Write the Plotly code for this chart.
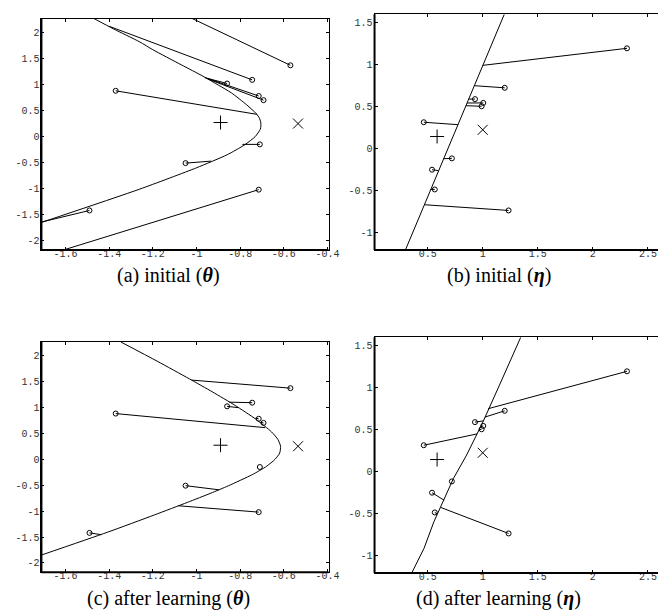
import plotly.graph_objects as go

# ---------------- data ----------------
# theta-space observations (panels a, c)
theta2_pts = [-0.57, -0.745, -0.86, -0.715, -0.693, -1.37, -0.71, -1.05, -0.715, -1.49]
theta1_pts = [1.37, 1.09, 1.02, 0.78, 0.70, 0.88, -0.15, -0.51, -1.02, -1.42]

# eta-space observations (panels b, d)
eta2_pts = [2.31, 1.20, 0.93, 1.005, 0.99, 0.465, 0.72, 0.54, 0.565, 1.235]
eta1_pts = [1.195, 0.725, 0.59, 0.545, 0.505, 0.315, -0.115, -0.25, -0.485, -0.735]

# reference markers (+ and x)
plus_theta = [-0.89, 0.27]
cross_theta = [-0.535, 0.25]
plus_eta = [0.586, 0.145]
cross_eta = [1.0, 0.225]

# (a) initial model curve in theta space
curve_a_t2 = [-1.47, -1.38, -1.26, -1.20, -1.07, -0.97, -0.90, -0.84, -0.77, -0.725, -0.712, -0.706,
              -0.705, -0.708, -0.731, -0.78, -0.86, -1.0, -1.26, -1.71]
curve_a_t1 = [2.27, 2.07, 1.82, 1.67, 1.38, 1.16, 0.99, 0.84, 0.61, 0.435, 0.355, 0.28,
              0.21, 0.14, 0.0, -0.16, -0.35, -0.60, -1.01, -1.65]
# (a) projection feet
foot_a_t2 = [-1.02, -1.40, -0.963, -0.955, -0.95, -0.723, -0.79, -0.933, -1.617, -1.714]
foot_a_t1 = [2.27, 2.12, 1.133, 1.125, 1.11, 0.427, -0.15, -0.472, -2.19, -1.647]

# (b) initial model line in eta space
curve_b_e2 = [0.297, 1.196]
curve_b_e1 = [-1.21, 1.60]
foot_b_e2 = [1.0, 0.924, 0.873, 0.858, 0.848, 0.776, 0.645, 0.599, 0.528, 0.470]
foot_b_e1 = [0.992, 0.75, 0.591, 0.544, 0.512, 0.286, -0.119, -0.262, -0.485, -0.667]

# (c) learned model curve in theta space
curve_c_t2 = [-1.346, -1.18, -1.032, -0.927, -0.823, -0.728, -0.656, -0.627, -0.615, -0.619, -0.64,
              -0.679, -0.745, -0.854, -0.934, -1.042, -1.192, -1.408, -1.714]
curve_c_t1 = [2.26, 1.89, 1.548, 1.298, 1.037, 0.771, 0.525, 0.38, 0.25, 0.12, 0.0,
              -0.136, -0.298, -0.512, -0.654, -0.833, -1.073, -1.408, -1.853]
foot_c_t2 = [-1.023, -0.85, -0.809, -0.73, -0.71, -0.686, -0.71, -0.896, -1.083, -1.436]
foot_c_t1 = [1.526, 1.10, 0.994, 0.79, 0.71, 0.609, -0.15, -0.59, -0.897, -1.455]

# (d) learned model curve in eta space
curve_d_e2 = [0.354, 0.467, 0.557, 0.646, 0.735, 0.854, 1.003, 1.152, 1.345]
curve_d_e1 = [-1.21, -0.913, -0.595, -0.337, -0.079, 0.198, 0.595, 1.03, 1.60]
foot_d_e2 = [1.05, 1.02, 1.006, 0.983, 0.967, 0.949, 0.72, 0.65, 0.585, 0.618]
foot_d_e1 = [0.75, 0.65, 0.605, 0.541, 0.5, 0.45, -0.115, -0.34, -0.5, -0.425]

theta_x_ticks = [-1.6, -1.4, -1.2, -1.0, -0.8, -0.6, -0.4]
theta_x_text = ["-1.6", "-1.4", "-1.2", "-1", "-0.8", "-0.6", "-0.4"]
theta_y_ticks = [-2, -1.5, -1, -0.5, 0, 0.5, 1, 1.5, 2]
theta_y_text = ["-2", "-1.5", "-1", "-0.5", "0", "0.5", "1", "1.5", "2"]
eta_x_ticks = [0.5, 1, 1.5, 2, 2.5]
eta_x_text = ["0.5", "1", "1.5", "2", "2.5"]
eta_y_ticks = [-1, -0.5, 0, 0.5, 1, 1.5]
eta_y_text = ["-1", "-0.5", "0", "0.5", "1", "1.5"]

captions = ["(a) initial (<b><i>θ</i></b>)", "(b) initial (<b><i>η</i></b>)",
            "(c) after learning (<b><i>θ</i></b>)", "(d) after learning (<b><i>η</i></b>)"]

# ---------------- figure ----------------
W, H = 666, 614
fig = go.Figure()


def segs(px, py, fx, fy):
    xs, ys = [], []
    for a, b, c, d in zip(px, py, fx, fy):
        xs += [a, c, None]
        ys += [b, d, None]
    return xs, ys


panels = [
    dict(n="", cx=curve_a_t2, cy=curve_a_t1, px=theta2_pts, py=theta1_pts, fx=foot_a_t2, fy=foot_a_t1,
         plus=plus_theta, cross=cross_theta, spline=True),
    dict(n="2", cx=curve_b_e2, cy=curve_b_e1, px=eta2_pts, py=eta1_pts, fx=foot_b_e2, fy=foot_b_e1,
         plus=plus_eta, cross=cross_eta, spline=False),
    dict(n="3", cx=curve_c_t2, cy=curve_c_t1, px=theta2_pts, py=theta1_pts, fx=foot_c_t2, fy=foot_c_t1,
         plus=plus_theta, cross=cross_theta, spline=True),
    dict(n="4", cx=curve_d_e2, cy=curve_d_e1, px=eta2_pts, py=eta1_pts, fx=foot_d_e2, fy=foot_d_e1,
         plus=plus_eta, cross=cross_eta, spline=False),
]

for p in panels:
    xa, ya = "x" + p["n"], "y" + p["n"]
    fig.add_trace(go.Scatter(x=p["cx"], y=p["cy"], mode="lines", xaxis=xa, yaxis=ya,
                             line=dict(color="black", width=1,
                                       shape="spline" if p["spline"] else "linear", smoothing=0.6),
                             showlegend=False, hoverinfo="skip"))
    sx, sy = segs(p["px"], p["py"], p["fx"], p["fy"])
    fig.add_trace(go.Scatter(x=sx, y=sy, mode="lines", xaxis=xa, yaxis=ya,
                             line=dict(color="black", width=1), showlegend=False, hoverinfo="skip"))
    fig.add_trace(go.Scatter(x=p["px"], y=p["py"], mode="markers", xaxis=xa, yaxis=ya,
                             marker=dict(symbol="circle-open", size=5, color="black", line=dict(width=1)),
                             showlegend=False))
    fig.add_trace(go.Scatter(x=[p["plus"][0]], y=[p["plus"][1]], mode="markers", xaxis=xa, yaxis=ya,
                             marker=dict(symbol="cross-thin-open", size=10, color="black", line=dict(width=1)),
                             showlegend=False))
    fig.add_trace(go.Scatter(x=[p["cross"][0]], y=[p["cross"][1]], mode="markers", xaxis=xa, yaxis=ya,
                             marker=dict(symbol="x-thin-open", size=10, color="black", line=dict(width=1)),
                             showlegend=False))

tickfont = dict(family="Liberation Mono, DejaVu Sans Mono, monospace", size=10, color="#333")


def ax(dom, rng, tv, tt, anchor, mirror, standoff):
    return dict(domain=dom, range=rng, tickvals=tv, ticktext=tt, anchor=anchor,
                showgrid=False, zeroline=False, showline=True, linecolor="black", linewidth=1,
                mirror=mirror, ticks="inside", ticklen=3, tickwidth=1, tickcolor="black",
                tickfont=tickfont, fixedrange=True, ticklabelstandoff=standoff)


lx = [34 / W, 326 / W]
rx = [372.7 / W, 1.0]
theta_xr = [-1.71, -0.395]
theta_yr = [-2.18, 2.26]
eta_xr = [0.018, 2.637]
eta_yr = [-1.206, 1.6]
XS, YS = -6, -1

fig.update_layout(
    xaxis=ax(lx, theta_xr, theta_x_ticks, theta_x_text, "y", "ticks", XS),
    yaxis=ax([1 - 242 / H, 1 - 11 / H], theta_yr, theta_y_ticks, theta_y_text, "x", "ticks", YS),
    xaxis2=ax(rx, eta_xr, eta_x_ticks, eta_x_text, "y2", "ticks", XS),
    yaxis2=ax([1 - 242 / H, 1 - 6.3 / H], eta_yr, eta_y_ticks, eta_y_text, "x2", False, YS),
    xaxis3=ax(lx, theta_xr, theta_x_ticks, theta_x_text, "y3", "ticks", XS),
    yaxis3=ax([1 - 564.3 / H, 1 - 334 / H], theta_yr, theta_y_ticks, theta_y_text, "x3", "ticks", YS),
    xaxis4=ax(rx, eta_xr, eta_x_ticks, eta_x_text, "y4", "ticks", XS),
    yaxis4=ax([1 - 565 / H, 1 - 329.3 / H], eta_yr, eta_y_ticks, eta_y_text, "x4", False, YS),
    width=W, height=H, margin=dict(l=0, r=0, t=0, b=0),
    plot_bgcolor="white", paper_bgcolor="white", showlegend=False,
)

# thick left / bottom axis lines
shapes = []
for n in ["", "2", "3", "4"]:
    shapes.append(dict(type="line", xref="x" + n + " domain", yref="y" + n + " domain",
                       x0=0, x1=0, y0=0, y1=1, line=dict(color="black", width=2)))
    shapes.append(dict(type="line", xref="x" + n + " domain", yref="y" + n + " domain",
                       x0=0, x1=1, y0=0, y1=0, line=dict(color="black", width=2)))
fig.update_layout(shapes=shapes)

cap_pos = [(163, 267), (499, 267), (163, 590), (499, 590)]
for txt, (cx, cy) in zip(captions, cap_pos):
    fig.add_annotation(text=txt, x=cx / W, y=1 - cy / H, xref="paper", yref="paper",
                       showarrow=False, xanchor="center", yanchor="middle",
                       font=dict(family="Liberation Serif, Times New Roman, serif", size=20, color="black"))

fig.write_html("out.html")
